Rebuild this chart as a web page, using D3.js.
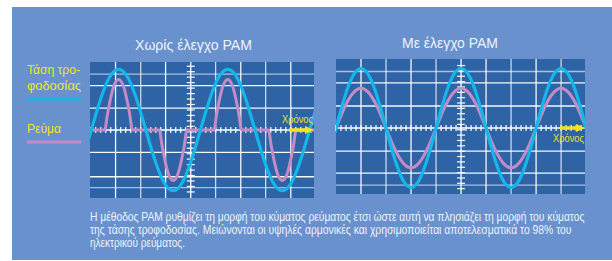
<!DOCTYPE html>
<html><head><meta charset="utf-8">
<script src="https://cdn.jsdelivr.net/npm/d3@7"></script>
<style>
html,body{margin:0;padding:0;background:#fff;}
svg{display:block;}
text{font-family:"Liberation Sans Narrow","Liberation Sans",Arial,sans-serif;}
</style></head><body>
<div id="chart"></div>
<script>
// ---------- data ----------
const titles = ["Χωρίς έλεγχο PAM", "Με έλεγχο PAM"];
const legendLabels = ["Τάση τρο-", "φοδοσίας", "Ρεύμα"];
const axisLabel = "Χρόνος";
const captionLines = [
  "Η μέθοδος PAM ρυθμίζει τη μορφή του κύματος ρεύματος έτσι ώστε αυτή να πλησιάζει τη μορφή του κύματος",
  "της τάσης τροφοδοσίας. Μειώνονται οι υψηλές αρμονικές και χρησιμοποιείται αποτελεσματικά το 98% του",
  "ηλεκτρικού ρεύματος."
];

// electrical angle (degrees) and normalised amplitude
const leftAngle   = [-30,0,30,60,90,120,150,180,210,240,270,300,330,360,390,420,450,480,510,540,570,600,630,660,690,720,750];
const leftVoltage = [-0.5,0,0.5,0.87,1,0.87,0.5,0,-0.5,-0.87,-1,-0.87,-0.5,0,0.5,0.87,1,0.87,0.5,0,-0.5,-0.87,-1,-0.87,-0.5,0,0.5];
const leftCurrentAngle = [-10,44,54,64,74,90,106,116,126,136,224,234,244,254,270,286,296,306,316,404,414,424,434,450,466,476,486,496,584,594,604,614,630,646,656,666,676,750];
const leftCurrent      = [0,0,0.28,0.53,0.72,0.83,0.72,0.53,0.28,0,0,-0.28,-0.53,-0.72,-0.83,-0.72,-0.53,-0.28,0,0,0.28,0.53,0.72,0.83,0.72,0.53,0.28,0,0,-0.28,-0.53,-0.72,-0.83,-0.72,-0.53,-0.28,0,0];

const rightAngle   = [-30,0,30,60,90,120,150,180,210,240,270,300,330,360,390,420,450,480,510,540,570,600,630,660,690,720,750,780,810,840,870,900,930];
const rightVoltage = [-0.5,0,0.5,0.87,1,0.87,0.5,0,-0.5,-0.87,-1,-0.87,-0.5,0,0.5,0.87,1,0.87,0.5,0,-0.5,-0.87,-1,-0.87,-0.5,0,0.5,0.87,1,0.87,0.5,0,-0.5];
const rightCurrent = [-0.34,0,0.34,0.58,0.67,0.58,0.34,0,-0.34,-0.58,-0.67,-0.58,-0.34,0,0.34,0.58,0.67,0.58,0.34,0,-0.34,-0.58,-0.67,-0.58,-0.34,0,0.34,0.58,0.67,0.58,0.34,0,-0.34];

const leftGridX  = [80,163,245,410,493,575,658];
const leftAxisX  = 328;
const leftGridY  = [0.92,0.73,0.36,-0.37,-0.77,-0.95];
const rightGridX = [90,180,270,360,540,630,720,810];
const rightAxisX = 450;
const rightGridY = [0.95,0.76,0.37,-0.39,-0.76,-0.96];

// ---------- style ----------
const W = 612, H = 261;
const C = {panel:"#6891cd", plot:"#2e63a5", volt:"#14b7ea", curr:"#c48bc6", yellow:"#f3e41e", text:"#eef3fb"};

const svg = d3.select("#chart").append("svg").attr("width", W).attr("height", H);
svg.append("rect").attr("x",12).attr("y",7).attr("width",600).attr("height",253).attr("fill",C.panel);

// text squeezed horizontally to a target width (real glyphs, real bbox)
function fitText(parent, str, x, y, size, fill, width, anchor){
  const t = parent.append("text").attr("font-size",size).attr("fill",fill).text(str);
  const nat = t.node().getComputedTextLength();
  const s = width / nat;
  const x0 = anchor === "end" ? x - width : x;
  t.attr("transform",`translate(${x0},${y}) scale(${s},1)`);
  return t;
}

function drawChart(cfg, idx){
  const x = d3.scaleLinear().domain(cfg.xDomain).range([cfg.x0, cfg.x1]);
  const y = d3.scaleLinear().domain(cfg.yDomain).range([cfg.y1, cfg.y0]);
  const g = svg.append("g");
  g.append("rect").attr("x",cfg.x0).attr("y",cfg.y0).attr("width",cfg.x1-cfg.x0).attr("height",cfg.y1-cfg.y0).attr("fill",C.plot);
  const cid = "clip"+idx;
  g.append("clipPath").attr("id",cid).append("rect")
    .attr("x",cfg.x0).attr("y",cfg.y0).attr("width",cfg.x1-cfg.x0).attr("height",cfg.y1-cfg.y0);
  // grid
  g.selectAll(".gx").data(cfg.gridX).join("line")
    .attr("x1",d=>x(d)).attr("x2",d=>x(d)).attr("y1",cfg.y0).attr("y2",cfg.y1)
    .attr("stroke","#fff").attr("stroke-opacity",(d,i)=>i%2?0.75:0.95).attr("stroke-width",1.3);
  g.selectAll(".gy").data(cfg.gridY).join("line")
    .attr("x1",cfg.x0).attr("x2",cfg.x1).attr("y1",d=>y(d)).attr("y2",d=>y(d))
    .attr("stroke","#fff").attr("stroke-opacity",(d,i)=>(i==0||i==5)?0.6:0.95).attr("stroke-width",1.3);
  // axes
  const ax = x(cfg.axisX), ay = y(0);
  g.append("line").attr("x1",ax).attr("x2",ax).attr("y1",cfg.y0).attr("y2",cfg.y1).attr("stroke","#fff").attr("stroke-width",1.3);
  g.append("line").attr("x1",cfg.x0).attr("x2",cfg.x1).attr("y1",ay).attr("y2",ay).attr("stroke","#fff").attr("stroke-width",1.3);
  const step = cfg.minorX;
  const xt = d3.range(cfg.axisX - Math.floor((cfg.axisX-cfg.xDomain[0])/step)*step, cfg.xDomain[1], step);
  g.selectAll(".tx").data(xt).join("line")
    .attr("x1",d=>x(d)).attr("x2",d=>x(d)).attr("y1",ay-3).attr("y2",ay+3)
    .attr("stroke","#fff").attr("stroke-width",1.2);
  const yt = d3.range(-1.2, 1.2, 0.09);
  g.selectAll(".ty").data(yt.filter(v=>y(v)>cfg.y0+2 && y(v)<cfg.y1-2)).join("line")
    .attr("x1",ax-4).attr("x2",ax+4).attr("y1",d=>y(d)).attr("y2",d=>y(d))
    .attr("stroke","#fff").attr("stroke-width",1.2);
  // waves
  const clipG = g.append("g").attr("clip-path",`url(#${cid})`);
  clipG.append("path")
    .attr("d", d3.line().x(d=>x(d[0])).y(d=>y(d[1])).curve(cfg.currCurve)(d3.zip(cfg.currA, cfg.currV)))
    .attr("fill","none").attr("stroke",C.curr).attr("stroke-width",3);
  clipG.append("path")
    .attr("d", d3.line().x(d=>x(d[0])).y(d=>y(d[1])).curve(d3.curveNatural)(d3.zip(cfg.voltA, cfg.voltV)))
    .attr("fill","none").attr("stroke",C.volt).attr("stroke-width",3.2);
  // time arrow
  g.append("line").attr("x1",cfg.x1-25).attr("x2",cfg.x1-6).attr("y1",ay).attr("y2",ay)
    .attr("stroke",C.yellow).attr("stroke-width",3.5);
  g.append("path").attr("d",`M${cfg.x1-9},${ay-4}L${cfg.x1},${ay}L${cfg.x1-9},${ay+4}Z`).attr("fill",C.yellow);
  fitText(g, axisLabel, cfg.x1-1, ay+cfg.labelDy, 11, C.yellow, 31, "end");
  // title
  fitText(svg, cfg.title, cfg.titleX, cfg.titleY, 15, C.text, cfg.titleW);
}

drawChart({x0:90,x1:314,y0:62,y1:198,xDomain:[-4.3,734.5],yDomain:[-1.12,1.12],
  gridX:leftGridX,gridY:leftGridY,axisX:leftAxisX,minorX:16.5,
  voltA:leftAngle,voltV:leftVoltage,currA:leftCurrentAngle,currV:leftCurrent,currCurve:d3.curveMonotoneX,
  labelDy:-7,title:titles[0],titleX:135,titleY:50,titleW:117},0);
drawChart({x0:336,x1:585,y0:59,y1:194,xDomain:[0,896],yDomain:[-1.11,1.16],
  gridX:rightGridX,gridY:rightGridY,axisX:rightAxisX,minorX:18,
  voltA:rightAngle,voltV:rightVoltage,currA:rightAngle,currV:rightCurrent,currCurve:d3.curveNatural,
  labelDy:14,title:titles[1],titleX:402,titleY:48,titleW:96},1);

// legend
const lg = svg.append("g");
fitText(lg, legendLabels[0], 27, 74, 13, C.yellow, 53);
fitText(lg, legendLabels[1], 27, 90, 13, C.yellow, 54);
lg.append("line").attr("x1",27).attr("x2",81).attr("y1",99).attr("y2",99).attr("stroke",C.volt).attr("stroke-width",3);
fitText(lg, legendLabels[2], 27, 133, 13, C.yellow, 34);
lg.append("line").attr("x1",27).attr("x2",81).attr("y1",142).attr("y2",142).attr("stroke",C.curr).attr("stroke-width",3);

// caption
const capW = [495, 482, 95];
captionLines.forEach((line,i)=>fitText(svg, line, 90, 220.5+i*13, 12.5, C.text, capW[i]));
</script>
</body></html>
